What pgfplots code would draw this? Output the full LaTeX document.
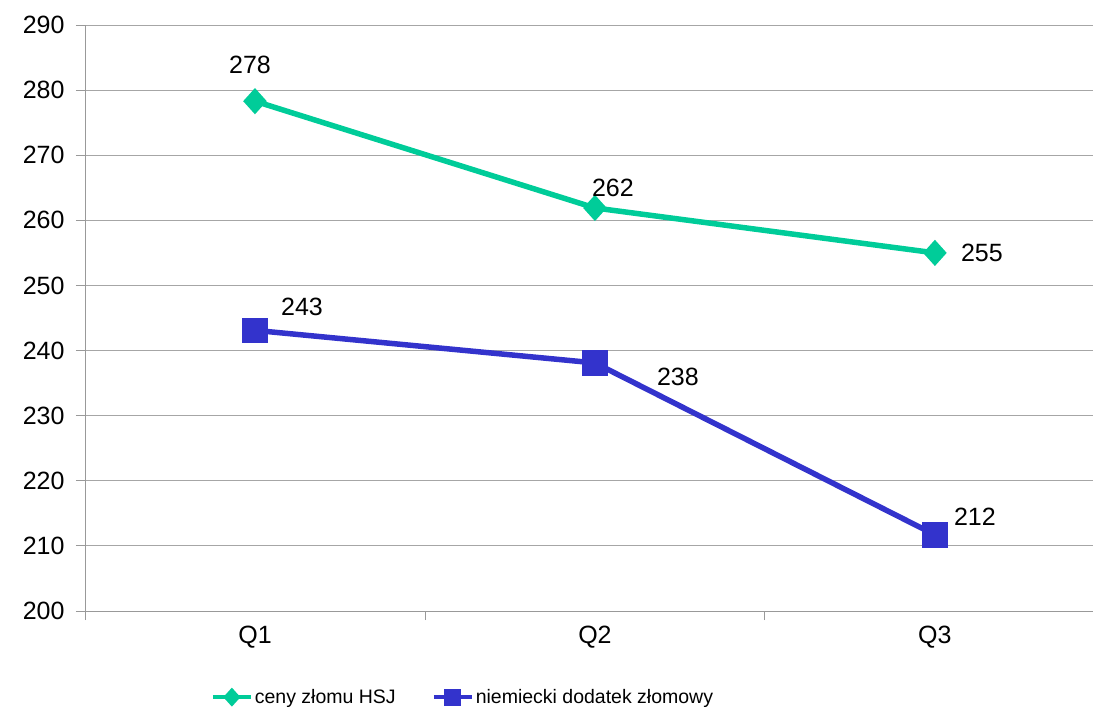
\documentclass[border=0pt]{standalone}
\usepackage{fontspec}
\setmainfont{Liberation Sans}
\usepackage{pgfplots}
\usepackage{pgfplotstable}
\pgfplotsset{compat=1.18}

\definecolor{hsj}{RGB}{0,204,153}
\definecolor{dod}{RGB}{51,51,204}

% x y and label offset (dx, dy in pt)
\pgfplotstableread{
x y dx dy
1 278.3 -5 36
2 261.9 18 20
3 255.0 47 0
}\hsjdata

\pgfplotstableread{
x y dx dy
1 243.1 47 23
2 238.1 83 -14
3 211.7 40 18
}\doddata

\begin{document}
\begin{tikzpicture}
\begin{axis}[
    scale only axis,
    width=1008pt, height=586pt,
    xmin=0.5, xmax=3.465,
    ymin=200, ymax=290,
    ytick distance=10,
    xtick={0.5,1.5,2.5}, xticklabels={},
    extra x ticks={1,2,3}, extra x tick labels={Q1,Q2,Q3},
    extra x tick style={major tick length=0pt},
    axis x line*=bottom, axis y line*=left,
    axis line style={gray!80, line width=0.9pt, -},
    ymajorgrids, grid style={gray!70, line width=0.9pt},
    tick align=outside, major tick length=9pt,
    tick style={gray!80, line width=0.9pt},
    tick label style={font=\fontsize{25}{29}\selectfont},
    yticklabel style={xshift=-8pt},
    xticklabel style={yshift=-12pt},
    /pgf/number format/assume math mode=true,
    legend style={at={(axis description cs:0.375,-0.147)}, anchor=center,
        draw=none, font=\fontsize{19.5}{24}\selectfont,
        /tikz/every even column/.append style={column sep=34pt}},
    legend columns=2,
    legend image code/.code={\draw[mark repeat=2,mark phase=2,#1,
        line width=4pt, mark size=6.5pt]
        plot coordinates {(0pt,0pt)(19pt,0pt)(38pt,0pt)};},
    nodes near coords,
    nodes near coords style={font=\fontsize{25}{29}\selectfont, anchor=center,
        xshift=\dx pt, yshift=\dy pt, text=black,
        /pgf/number format/.cd, fixed, precision=0},
    visualization depends on={\thisrow{dx} \as \dx},
    visualization depends on={\thisrow{dy} \as \dy},
]
\addplot[hsj, line width=5.5pt, mark=diamond*, mark size=9pt,
    mark options={xscale=1.2, solid}] table[x=x, y=y] {\hsjdata};
\addlegendentry{ceny złomu HSJ}
\addplot[dod, line width=5.5pt, mark=square*, mark size=10pt,
    mark options={solid}] table[x=x, y=y] {\doddata};
\addlegendentry{niemiecki dodatek złomowy}
\coordinate (sw) at (rel axis cs:0,0);
\coordinate (ne) at (rel axis cs:1,1);
\end{axis}
\pgfresetboundingbox
\path[use as bounding box] ([shift={(-85pt,-101pt)}]sw) rectangle ([shift={(0pt,25pt)}]ne);
\end{tikzpicture}
\end{document}
